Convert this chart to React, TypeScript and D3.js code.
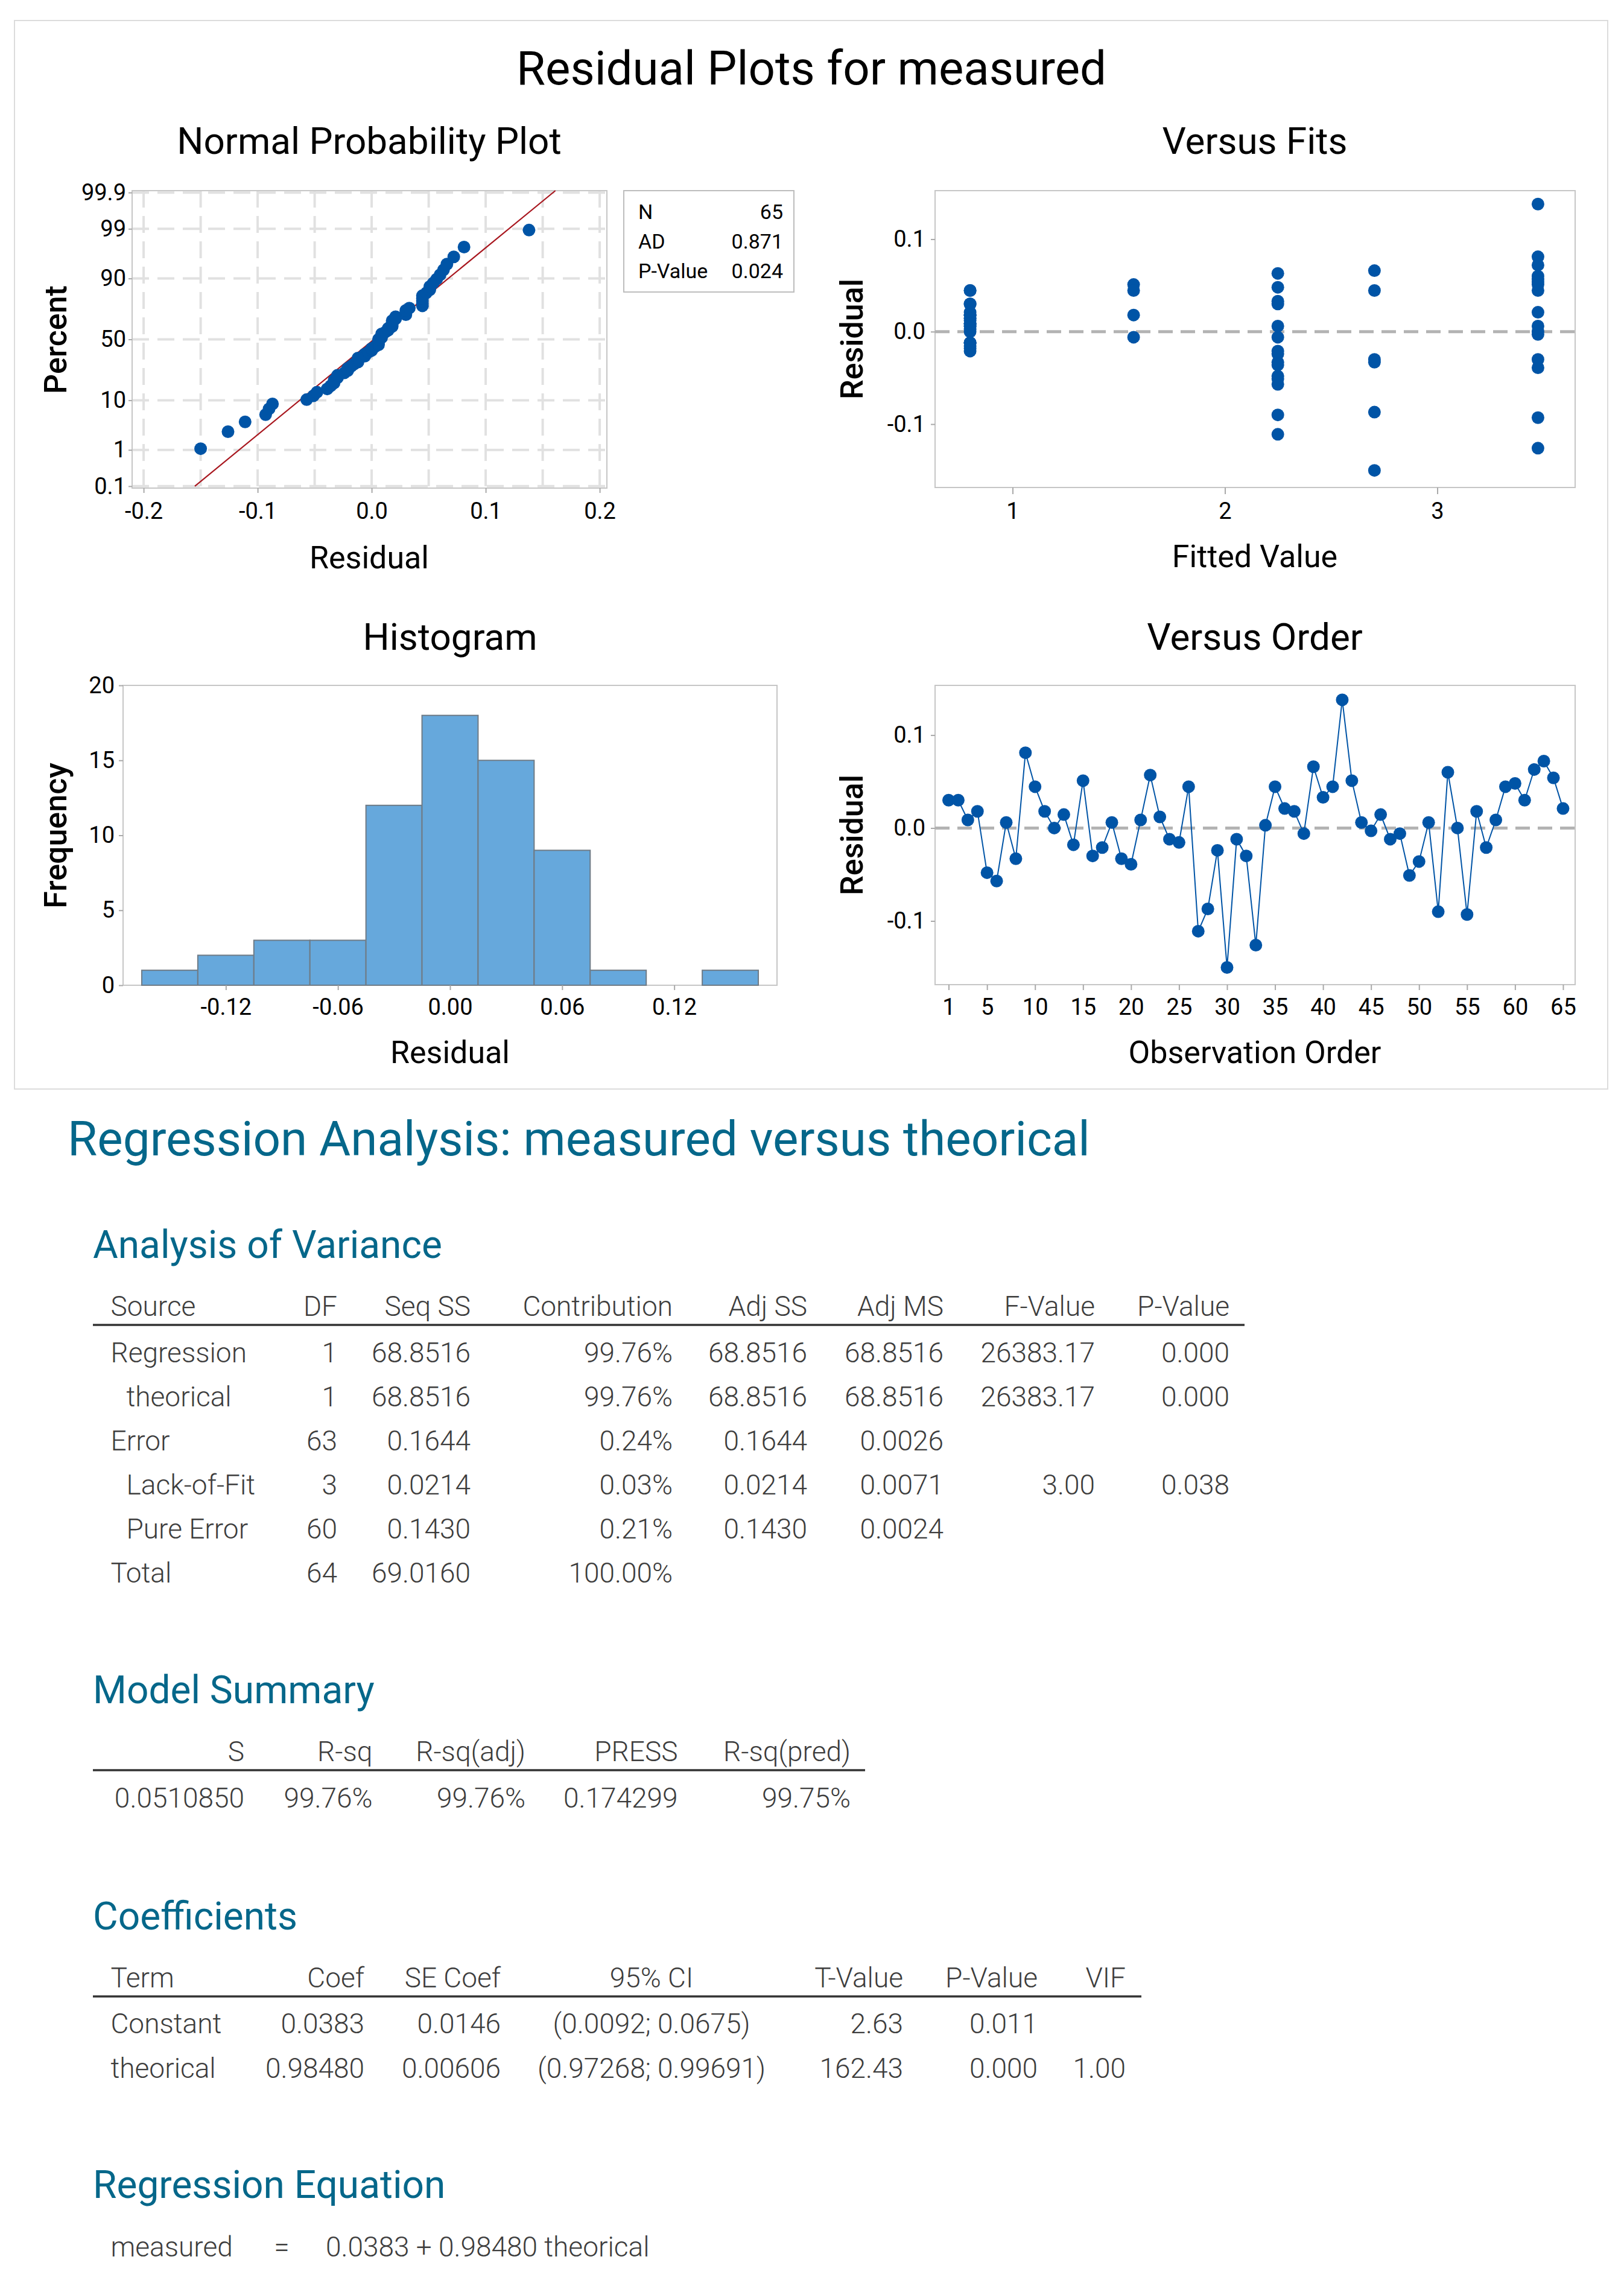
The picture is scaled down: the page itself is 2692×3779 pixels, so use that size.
import React, { useRef, useEffect } from 'react';
import * as d3 from 'd3';

const { select, scaleLinear, axisBottom, axisLeft, line, mean, deviation } = d3;

const WIDTH = 2692;
const HEIGHT = 3779;
const FONT = 'Roboto, "Open Sans", "DejaVu Sans", sans-serif';
const BLUE = '#0054a6';
const TEAL = '#05678a';
const INK = '#3d3d3d';

// residuals in observation order
const residuals = [
  0.030, 0.030, 0.0087, 0.018, -0.048, -0.057, 0.006, -0.033, 0.081, 0.0445,
  0.018, 0.000, 0.0145, -0.018, 0.051, -0.030, -0.021, 0.006, -0.033, -0.039,
  0.0087, 0.057, 0.012, -0.012, -0.0155, 0.0445, -0.111, -0.087, -0.024, -0.150,
  -0.012, -0.030, -0.126, 0.003, 0.0445, 0.021, 0.018, -0.006, 0.066, 0.033,
  0.0445, 0.138, 0.051, 0.006, -0.003, 0.0145, -0.012, -0.006, -0.051, -0.036,
  0.006, -0.090, 0.060, 0.000, -0.093, 0.018, -0.021, 0.0087, 0.0445, 0.048,
  0.030, 0.063, 0.072, 0.054, 0.021,
];

// the five fitted values of Versus Fits, and the one each observation sits on
const fittedLevels = [0.8, 1.57, 2.249, 2.704, 3.474];
const fitLevel = [
  0, 0, 0, 0, 2, 2, 0, 2, 4, 0,
  0, 0, 0, 0, 1, 3, 0, 0, 3, 4,
  0, 4, 0, 0, 0, 3, 2, 3, 2, 3,
  0, 4, 4, 0, 0, 0, 0, 1, 3, 2,
  4, 4, 4, 2, 4, 0, 0, 2, 2, 2,
  4, 2, 4, 4, 4, 1, 2, 0, 1, 2,
  2, 2, 4, 4, 4,
];

const histMidpoints = [-0.15, -0.12, -0.09, -0.06, -0.03, 0, 0.03, 0.06, 0.09, 0.12, 0.15];
const histCounts = [1, 2, 3, 3, 12, 18, 15, 9, 1, 0, 1];
const histBinWidth = 0.03;

const percentTicks = [0.1, 1, 10, 50, 90, 99, 99.9];
const normXTicks = [-0.2, -0.1, 0, 0.1, 0.2];
const normGridX = [-0.2, -0.15, -0.1, -0.05, 0, 0.05, 0.1, 0.15, 0.2];
const fitsTicks = [1, 2, 3];
const residTicks = [-0.1, 0, 0.1];
const histXTicks = [-0.12, -0.06, 0, 0.06, 0.12];
const histYTicks = [0, 5, 10, 15, 20];
const orderTicks = [1, 5, 10, 15, 20, 25, 30, 35, 40, 45, 50, 55, 60, 65];

const normStats = [
  ['N', '65'],
  ['AD', '0.871'],
  ['P-Value', '0.024'],
];

const anovaHeader = ['Source', 'DF', 'Seq SS', 'Contribution', 'Adj SS', 'Adj MS', 'F-Value', 'P-Value'];
const anovaRows = [
  ['Regression', '1', '68.8516', '99.76%', '68.8516', '68.8516', '26383.17', '0.000'],
  ['theorical', '1', '68.8516', '99.76%', '68.8516', '68.8516', '26383.17', '0.000'],
  ['Error', '63', '0.1644', '0.24%', '0.1644', '0.0026', '', ''],
  ['Lack-of-Fit', '3', '0.0214', '0.03%', '0.0214', '0.0071', '3.00', '0.038'],
  ['Pure Error', '60', '0.1430', '0.21%', '0.1430', '0.0024', '', ''],
  ['Total', '64', '69.0160', '100.00%', '', '', '', ''],
];
const anovaIndented = [false, true, false, true, true, false];

const summaryHeader = ['S', 'R-sq', 'R-sq(adj)', 'PRESS', 'R-sq(pred)'];
const summaryRow = ['0.0510850', '99.76%', '99.76%', '0.174299', '99.75%'];

const coefHeader = ['Term', 'Coef', 'SE Coef', '95% CI', 'T-Value', 'P-Value', 'VIF'];
const coefRows = [
  ['Constant', '0.0383', '0.0146', '(0.0092; 0.0675)', '2.63', '0.011', ''],
  ['theorical', '0.98480', '0.00606', '(0.97268; 0.99691)', '162.43', '0.000', '1.00'],
];

const equation = ['measured', '=', '0.0383 + 0.98480 theorical'];

// Acklam's rational approximation of the standard normal quantile
function normInv(p: number): number {
  const a = [-39.69683028665376, 220.9460984245205, -275.9285104469687, 138.357751867269, -30.66479806614716, 2.506628277459239];
  const b = [-54.47609879822406, 161.5858368580409, -155.6989798598866, 66.80131188771972, -13.28068155288572];
  const c = [-0.007784894002430293, -0.3223964580411365, -2.400758277161838, -2.549732539343734, 4.374664141464968, 2.938163982698783];
  const d = [0.007784695709041462, 0.3224671290700398, 2.445134137142996, 3.754408661907416];
  const lo = 0.02425;
  if (p < lo) {
    const q = Math.sqrt(-2 * Math.log(p));
    return (((((c[0] * q + c[1]) * q + c[2]) * q + c[3]) * q + c[4]) * q + c[5]) / ((((d[0] * q + d[1]) * q + d[2]) * q + d[3]) * q + 1);
  }
  if (p <= 1 - lo) {
    const q = p - 0.5;
    const r = q * q;
    return ((((((a[0] * r + a[1]) * r + a[2]) * r + a[3]) * r + a[4]) * r + a[5]) * q) / (((((b[0] * r + b[1]) * r + b[2]) * r + b[3]) * r + b[4]) * r + 1);
  }
  const q = Math.sqrt(-2 * Math.log(1 - p));
  return -(((((c[0] * q + c[1]) * q + c[2]) * q + c[3]) * q + c[4]) * q + c[5]) / ((((d[0] * q + d[1]) * q + d[2]) * q + d[3]) * q + 1);
}

type Box = { x0: number; x1: number; y0: number; y1: number };
const npBox: Box = { x0: 219, x1: 1006, y0: 316, y1: 809 };
const vfBox: Box = { x0: 1550, x1: 2611, y0: 316, y1: 808 };
const hiBox: Box = { x0: 204, x1: 1288, y0: 1136, y1: 1633 };
const voBox: Box = { x0: 1550, x1: 2611, y0: 1136, y1: 1632 };

const addText = (
  parent: any,
  x: number,
  y: number,
  str: string,
  size: number,
  anchor = 'middle',
  fill = '#000',
  weight = 400
) =>
  parent
    .append('text')
    .attr('x', x)
    .attr('y', y)
    .attr('text-anchor', anchor)
    .attr('font-family', FONT)
    .attr('font-size', size)
    .attr('font-weight', weight)
    .attr('fill', fill)
    .text(str);

const addRotated = (parent: any, x: number, y: number, str: string) =>
  parent
    .append('text')
    .attr('transform', `translate(${x}, ${y}) rotate(-90)`)
    .attr('text-anchor', 'middle')
    .attr('font-family', FONT)
    .attr('font-size', 52)
    .attr('font-weight', 500)
    .text(str);

const styleAxis = (g: any) => {
  g.select('.domain').remove();
  g.selectAll('.tick line').attr('stroke', '#a9a9a9').attr('stroke-width', 2);
  g.selectAll('.tick text').attr('font-size', 38).attr('font-family', FONT).attr('fill', '#000');
};

const drawFrame = (parent: any, b: Box) =>
  parent
    .append('rect')
    .attr('x', b.x0)
    .attr('y', b.y0)
    .attr('width', b.x1 - b.x0)
    .attr('height', b.y1 - b.y0)
    .attr('fill', 'none')
    .attr('stroke', '#c6c6c6')
    .attr('stroke-width', 2);

export default function App() {
  const ref = useRef<SVGSVGElement>(null);

  useEffect(() => {
    if (!ref.current) return;
    const svg = select(ref.current);
    svg.selectAll('*').remove();

    svg.append('rect').attr('width', WIDTH).attr('height', HEIGHT).attr('fill', '#fff');
    svg
      .append('rect')
      .attr('x', 24)
      .attr('y', 34)
      .attr('width', 2641)
      .attr('height', 1771)
      .attr('fill', 'none')
      .attr('stroke', '#dcdcdc')
      .attr('stroke-width', 2);

    addText(svg, 1345, 140, 'Residual Plots for measured', 78);

    // ---------- Normal probability plot ----------
    const np = svg.append('g');
    const xN = scaleLinear().domain([-0.2101, 0.2063]).range([npBox.x0, npBox.x1]);
    const yN = scaleLinear().domain([-3.13, 3.13]).range([npBox.y1, npBox.y0]);
    const zTicks = percentTicks.map(p => normInv(p / 100));

    np.selectAll('line.gx')
      .data(normGridX)
      .enter()
      .append('line')
      .attr('x1', d => xN(d))
      .attr('x2', d => xN(d))
      .attr('y1', npBox.y0)
      .attr('y2', npBox.y1);
    np.selectAll('line.gy')
      .data(zTicks)
      .enter()
      .append('line')
      .attr('x1', npBox.x0)
      .attr('x2', npBox.x1)
      .attr('y1', d => yN(d))
      .attr('y2', d => yN(d));
    np.selectAll('line')
      .attr('stroke', '#e1e1e1')
      .attr('stroke-width', 4)
      .attr('stroke-dasharray', '28 14');

    drawFrame(np, npBox);

    const nx = np
      .append('g')
      .attr('transform', `translate(0, ${npBox.y1})`)
      .call(
        axisBottom(xN)
          .tickValues(normXTicks)
          .tickFormat(d => (d as number).toFixed(1))
          .tickSize(8)
          .tickPadding(16)
      );
    styleAxis(nx);
    const ny = np
      .append('g')
      .attr('transform', `translate(${npBox.x0}, 0)`)
      .call(
        axisLeft(yN)
          .tickValues(zTicks)
          .tickFormat((_d, i) => String(percentTicks[i]))
          .tickSize(6)
          .tickPadding(4)
      );
    styleAxis(ny);

    const mu = mean(residuals) ?? 0;
    const sd = deviation(residuals) ?? 0.05;
    np.append('path')
      .attr('d', line()([-3.09, 3.13].map(z => [xN(mu + z * sd), yN(z)] as [number, number])))
      .attr('fill', 'none')
      .attr('stroke', '#a8161e')
      .attr('stroke-width', 2.2);

    const sorted = residuals.slice().sort((a, b) => a - b);
    const n = sorted.length;
    np.selectAll('circle')
      .data(sorted)
      .enter()
      .append('circle')
      .attr('cx', d => xN(d))
      .attr('cy', (_d, i) => yN(normInv((i + 1 - 0.3) / (n + 0.4))))
      .attr('r', 10.5)
      .attr('fill', BLUE);

    addText(np, 612, 255, 'Normal Probability Plot', 62);
    addText(np, 612, 942, 'Residual', 52);
    addRotated(np, 110, 563, 'Percent');

    const legend = np.append('g');
    legend
      .append('rect')
      .attr('x', 1034)
      .attr('y', 316)
      .attr('width', 282)
      .attr('height', 168)
      .attr('fill', '#fff')
      .attr('stroke', '#bdbdbd')
      .attr('stroke-width', 2);
    normStats.forEach(([k, v], i) => {
      addText(legend, 1058, 363 + i * 49, k, 34, 'start');
      addText(legend, 1298, 363 + i * 49, v, 34, 'end');
    });

    // ---------- Versus Fits ----------
    const vf = svg.append('g');
    const xF = scaleLinear().domain([0.635, 3.649]).range([vfBox.x0, vfBox.x1]);
    const yF = scaleLinear().domain([-0.1685, 0.1525]).range([vfBox.y1, vfBox.y0]);
    drawFrame(vf, vfBox);
    styleAxis(
      vf
        .append('g')
        .attr('transform', `translate(0, ${vfBox.y1})`)
        .call(axisBottom(xF).tickValues(fitsTicks).tickFormat(d => String(d)).tickSize(11).tickPadding(14))
    );
    styleAxis(
      vf
        .append('g')
        .attr('transform', `translate(${vfBox.x0}, 0)`)
        .call(axisLeft(yF).tickValues(residTicks).tickFormat(d => (d as number).toFixed(1)).tickSize(7).tickPadding(9))
    );
    vf.append('line')
      .attr('x1', vfBox.x0)
      .attr('x2', vfBox.x1)
      .attr('y1', yF(0))
      .attr('y2', yF(0))
      .attr('stroke', '#b3b3b3')
      .attr('stroke-width', 5)
      .attr('stroke-dasharray', '24 13');
    vf.selectAll('circle')
      .data(residuals)
      .enter()
      .append('circle')
      .attr('cx', (_d, i) => xF(fittedLevels[fitLevel[i]]))
      .attr('cy', d => yF(d))
      .attr('r', 10.5)
      .attr('fill', BLUE);
    addText(vf, 2080, 255, 'Versus Fits', 62);
    addText(vf, 2080, 940, 'Fitted Value', 52);
    addRotated(vf, 1430, 562, 'Residual');

    // ---------- Histogram ----------
    const hi = svg.append('g');
    const xH = scaleLinear().domain([-0.175, 0.175]).range([hiBox.x0, hiBox.x1]);
    const yH = scaleLinear().domain([0, 20]).range([hiBox.y1, hiBox.y0]);
    drawFrame(hi, hiBox);
    hi.selectAll('rect.bar')
      .data(histMidpoints.map((m, i) => ({ m, c: histCounts[i] })).filter(d => d.c > 0))
      .enter()
      .append('rect')
      .attr('class', 'bar')
      .attr('x', d => xH(d.m - histBinWidth / 2))
      .attr('width', d => xH(d.m + histBinWidth / 2) - xH(d.m - histBinWidth / 2))
      .attr('y', d => yH(d.c))
      .attr('height', d => yH(0) - yH(d.c))
      .attr('fill', '#66a8dc')
      .attr('stroke', '#6f7b86')
      .attr('stroke-width', 2);
    styleAxis(
      hi
        .append('g')
        .attr('transform', `translate(0, ${hiBox.y1})`)
        .call(axisBottom(xH).tickValues(histXTicks).tickFormat(d => (d as number).toFixed(2)).tickSize(8).tickPadding(14))
    );
    styleAxis(
      hi
        .append('g')
        .attr('transform', `translate(${hiBox.x0}, 0)`)
        .call(axisLeft(yH).tickValues(histYTicks).tickFormat(d => String(d)).tickSize(7).tickPadding(7))
    );
    addText(hi, 746, 1077, 'Histogram', 62);
    addText(hi, 746, 1762, 'Residual', 52);
    addRotated(hi, 110, 1385, 'Frequency');

    // ---------- Versus Order ----------
    const vo = svg.append('g');
    const xO = scaleLinear().domain([-0.414, 66.26]).range([voBox.x0, voBox.x1]);
    const yO = scaleLinear().domain([-0.1685, 0.1535]).range([voBox.y1, voBox.y0]);
    drawFrame(vo, voBox);
    styleAxis(
      vo
        .append('g')
        .attr('transform', `translate(0, ${voBox.y1})`)
        .call(axisBottom(xO).tickValues(orderTicks).tickFormat(d => String(d)).tickSize(9).tickPadding(14))
    );
    styleAxis(
      vo
        .append('g')
        .attr('transform', `translate(${voBox.x0}, 0)`)
        .call(axisLeft(yO).tickValues(residTicks).tickFormat(d => (d as number).toFixed(1)).tickSize(7).tickPadding(9))
    );
    vo.append('line')
      .attr('x1', voBox.x0)
      .attr('x2', voBox.x1)
      .attr('y1', yO(0))
      .attr('y2', yO(0))
      .attr('stroke', '#b3b3b3')
      .attr('stroke-width', 5)
      .attr('stroke-dasharray', '24 13');
    vo.append('path')
      .attr('d', line<number>().x((_d, i) => xO(i + 1)).y(d => yO(d))(residuals))
      .attr('fill', 'none')
      .attr('stroke', BLUE)
      .attr('stroke-width', 2);
    vo.selectAll('circle')
      .data(residuals)
      .enter()
      .append('circle')
      .attr('cx', (_d, i) => xO(i + 1))
      .attr('cy', d => yO(d))
      .attr('r', 10.5)
      .attr('fill', BLUE);
    addText(vo, 2080, 1077, 'Versus Order', 62);
    addText(vo, 2080, 1762, 'Observation Order', 52);
    addRotated(vo, 1430, 1384, 'Residual');

    // ---------- Session output ----------
    const out = svg.append('g');
    const rule = (x1: number, x2: number, y: number) =>
      out.append('line').attr('x1', x1).attr('x2', x2).attr('y1', y).attr('y2', y).attr('stroke', '#333').attr('stroke-width', 3.5);
    const cell = (x: number, y: number, s: string, anchor: string) => {
      if (s) addText(out, x, y, s, 46, anchor, INK, 300);
    };

    addText(out, 112, 1915, 'Regression Analysis: measured versus theorical', 80, 'start', TEAL);

    addText(out, 154, 2085, 'Analysis of Variance', 64, 'start', TEAL);
    const anovaRight = [559, 780, 1115, 1338, 1564, 1815, 2038];
    anovaHeader.forEach((h, j) => cell(j === 0 ? 183.5 : anovaRight[j - 1], 2181, h, j === 0 ? 'start' : 'end'));
    rule(154, 2063, 2196);
    anovaRows.forEach((row, i) => {
      const y = 2258 + i * 73;
      row.forEach((s, j) =>
        cell(j === 0 ? 183.5 + (anovaIndented[i] ? 26 : 0) : anovaRight[j - 1], y, s, j === 0 ? 'start' : 'end')
      );
    });

    addText(out, 154, 2823, 'Model Summary', 64, 'start', TEAL);
    const summaryRight = [405, 617.5, 871, 1123.5, 1410];
    summaryHeader.forEach((h, j) => cell(summaryRight[j], 2919, h, 'end'));
    rule(154, 1434, 2934);
    summaryRow.forEach((s, j) => cell(summaryRight[j], 2996, s, 'end'));

    addText(out, 154, 3198, 'Coefficients', 64, 'start', TEAL);
    const coefX = [183.5, 604, 830, 1080, 1497, 1720, 1866];
    const coefAnchor = ['start', 'end', 'end', 'middle', 'end', 'end', 'end'];
    coefHeader.forEach((h, j) => cell(coefX[j], 3294, h, coefAnchor[j]));
    rule(154, 1892, 3309);
    coefRows.forEach((row, i) => row.forEach((s, j) => cell(coefX[j], 3370 + i * 74, s, coefAnchor[j])));

    addText(out, 154, 3643, 'Regression Equation', 64, 'start', TEAL);
    cell(183.5, 3740, equation[0], 'start');
    cell(467, 3740, equation[1], 'middle');
    cell(540, 3740, equation[2], 'start');
  }, []);

  return (
    <svg
      ref={ref}
      width={WIDTH}
      height={HEIGHT}
      style={{ position: 'absolute', left: 0, top: 0, display: 'block' }}
    />
  );
}
